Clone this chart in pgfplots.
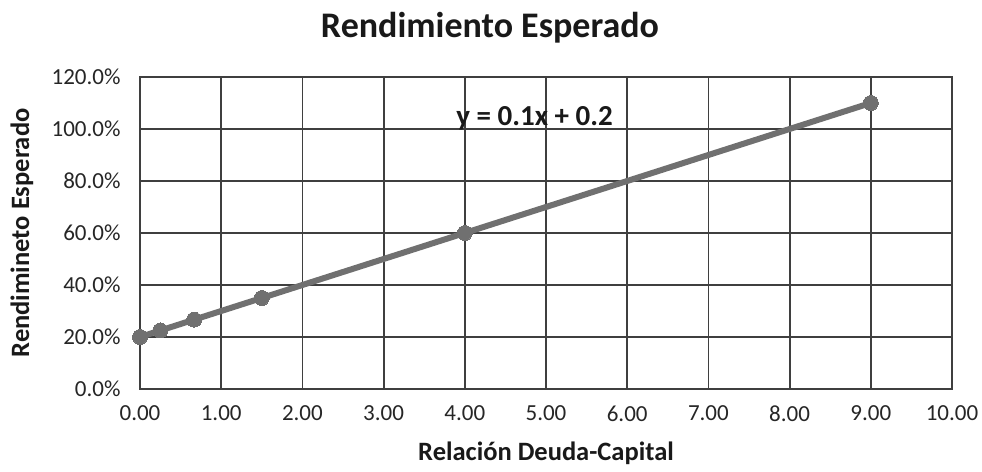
\documentclass[border=0pt]{standalone}
\usepackage{pgfplots}
\pgfplotsset{compat=1.18}
\usepackage{fontspec}
\setmainfont{Carlito}
\definecolor{gridc}{HTML}{3f3f3f}
\definecolor{linec}{HTML}{707070}
\begin{document}
\begin{tikzpicture}[x=1bp,y=1bp]
\useasboundingbox (-140,-83) rectangle (842,389);
\begin{axis}[
  at={(0,0)}, anchor=south west,
  scale only axis, width=812bp, height=312bp,
  xmin=0, xmax=10, ymin=0, ymax=1.2,
  xtick={0,1,...,10}, ytick={0,0.2,...,1.2},
  grid=major,
  major grid style={gridc, line width=1.8bp},
  axis line style={gridc, line width=1.8bp},
  tick style={draw=none},
  xticklabel={\pgfmathprintnumber[fixed,fixed zerofill,precision=2]{\tick}},
  yticklabel={\pgfmathparse{\tick*100}\pgfmathprintnumber[fixed,fixed zerofill,precision=1]{\pgfmathresult}\%},
  /pgf/number format/assume math mode=true,
  ticklabel style={font=\fontsize{23bp}{26bp}\selectfont, text=black!85},
  xticklabel style={yshift=-13bp},
  yticklabel style={xshift=-16bp},
  clip=false,
]
\addplot[linec, line width=6bp, mark=*, mark size=7.5bp, mark options={fill=linec, draw=linec, line width=0bp}]
  coordinates {(0,0.2) (0.25,0.225) (0.6667,0.2667) (1.5,0.35) (4,0.6) (9,1.1)};
\node[font=\bfseries\fontsize{29bp}{32bp}\selectfont, text=black!90] at (axis cs:4.86,1.04) {y = 0.1x + 0.2};
\end{axis}
\node[font=\bfseries\fontsize{36bp}{40bp}\selectfont, text=black!90] at (350,361) {Rendimiento Esperado};
\node[font=\bfseries\fontsize{26.5bp}{30bp}\selectfont, text=black!90] at (406,-64) {Relación Deuda-Capital};
\node[font=\bfseries\fontsize{26.5bp}{30bp}\selectfont, text=black!90, rotate=90] at (-118,156) {Rendimineto Esperado};
\end{tikzpicture}
\end{document}
